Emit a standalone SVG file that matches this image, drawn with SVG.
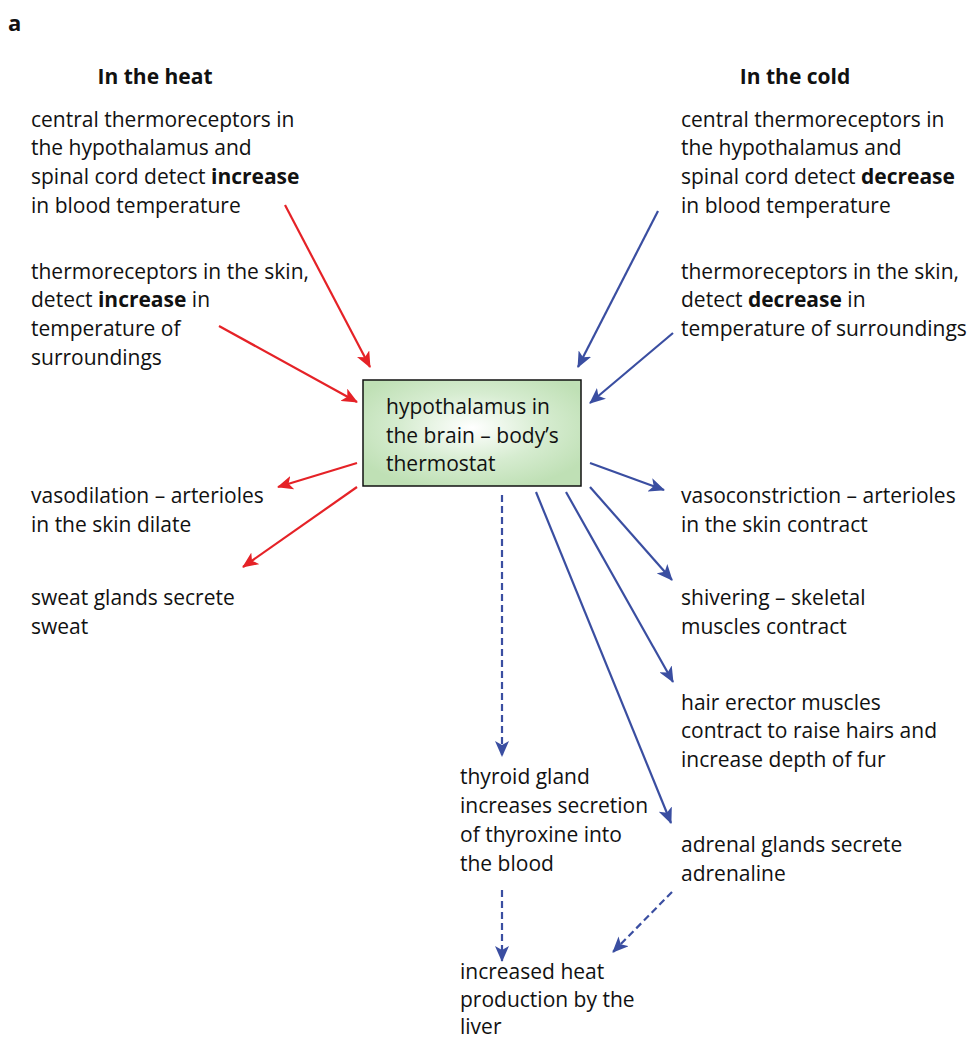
<svg xmlns="http://www.w3.org/2000/svg" width="969" height="1039" viewBox="0 0 969 1039">
  <defs>
    <style>
      text { font-family: "Open Sans", "Noto Sans", "Liberation Sans", sans-serif; font-size: 21px; fill: #111; }
      .b { font-weight: bold; }
      .red { stroke: #e52227; stroke-width: 2.2; fill: none; }
      .blue { stroke: #3a4ea1; stroke-width: 2.2; fill: none; }
      .dash { stroke-dasharray: 7 4; }
    </style>
    <radialGradient id="glow" cx="0.5" cy="0.45" r="0.6">
      <stop offset="0" stop-color="#ffffff"/>
      <stop offset="0.55" stop-color="#d6ecd0"/>
      <stop offset="1" stop-color="#bfe0b5"/>
    </radialGradient>
    <marker id="ahR" markerUnits="userSpaceOnUse" markerWidth="16" markerHeight="14" refX="15" refY="7" orient="auto">
      <path d="M0,0 L16,7 L0,14 L4,7 z" fill="#e52227"/>
    </marker>
    <marker id="ahB" markerUnits="userSpaceOnUse" markerWidth="16" markerHeight="14" refX="15" refY="7" orient="auto">
      <path d="M0,0 L16,7 L0,14 L4,7 z" fill="#3a4ea1"/>
    </marker>
  </defs>

  <text x="8" y="31" class="b" style="font-size:22px">a</text>

  <!-- connectors -->
  <g id="connectors">
    <line class="red" x1="285" y1="205" x2="370" y2="367" marker-end="url(#ahR)"/>
    <line class="red" x1="219" y1="326" x2="357" y2="402" marker-end="url(#ahR)"/>
    <line class="red" x1="357" y1="463" x2="278" y2="487" marker-end="url(#ahR)"/>
    <line class="red" x1="357" y1="487" x2="243" y2="567" marker-end="url(#ahR)"/>
    <line class="blue" x1="658" y1="211" x2="578" y2="367" marker-end="url(#ahB)"/>
    <line class="blue" x1="673" y1="333" x2="590" y2="403" marker-end="url(#ahB)"/>
    <line class="blue" x1="590" y1="463" x2="664" y2="490" marker-end="url(#ahB)"/>
    <line class="blue" x1="590" y1="487" x2="672" y2="580" marker-end="url(#ahB)"/>
    <line class="blue" x1="566" y1="492" x2="673" y2="682" marker-end="url(#ahB)"/>
    <line class="blue" x1="536" y1="492" x2="671" y2="823" marker-end="url(#ahB)"/>
    <line class="blue dash" x1="502" y1="495" x2="502" y2="756" marker-end="url(#ahB)"/>
    <line class="blue dash" x1="502" y1="890" x2="502" y2="961" marker-end="url(#ahB)"/>
    <line class="blue dash" x1="672" y1="892" x2="613" y2="952" marker-end="url(#ahB)"/>
  </g>

  <g id="hypothalamus">
    <rect x="363" y="380" width="218" height="106" fill="url(#glow)" stroke="#111" stroke-width="1.5"/>
    <text x="386" y="414">hypothalamus in</text>
    <text x="386" y="443">the brain – body’s</text>
    <text x="386" y="471">thermostat</text>
  </g>

  <g id="heat-title"><text x="155" y="84" class="b" text-anchor="middle">In the heat</text></g>
  <g id="cold-title"><text x="795" y="84" class="b" text-anchor="middle">In the cold</text></g>

  <g id="heat-central">
    <text x="31" y="127">central thermoreceptors in</text>
    <text x="31" y="155">the hypothalamus and</text>
    <text x="31" y="184">spinal cord detect <tspan class="b">increase</tspan></text>
    <text x="31" y="213">in blood temperature</text>
  </g>
  <g id="heat-skin">
    <text x="31" y="279">thermoreceptors in the skin,</text>
    <text x="31" y="307">detect <tspan class="b">increase</tspan> in</text>
    <text x="31" y="336">temperature of</text>
    <text x="31" y="365">surroundings</text>
  </g>
  <g id="vasodilation">
    <text x="31" y="503">vasodilation – arterioles</text>
    <text x="31" y="532">in the skin dilate</text>
  </g>
  <g id="sweat">
    <text x="31" y="605">sweat glands secrete</text>
    <text x="31" y="634">sweat</text>
  </g>

  <g id="cold-central">
    <text x="681" y="127">central thermoreceptors in</text>
    <text x="681" y="155">the hypothalamus and</text>
    <text x="681" y="184">spinal cord detect <tspan class="b">decrease</tspan></text>
    <text x="681" y="213">in blood temperature</text>
  </g>
  <g id="cold-skin">
    <text x="681" y="279">thermoreceptors in the skin,</text>
    <text x="681" y="307">detect <tspan class="b">decrease</tspan> in</text>
    <text x="681" y="336">temperature of surroundings</text>
  </g>
  <g id="vasoconstriction">
    <text x="681" y="503">vasoconstriction – arterioles</text>
    <text x="681" y="532">in the skin contract</text>
  </g>
  <g id="shivering">
    <text x="681" y="605">shivering – skeletal</text>
    <text x="681" y="634">muscles contract</text>
  </g>
  <g id="hair-erector">
    <text x="681" y="710">hair erector muscles</text>
    <text x="681" y="738">contract to raise hairs and</text>
    <text x="681" y="767">increase depth of fur</text>
  </g>
  <g id="adrenal">
    <text x="681" y="852">adrenal glands secrete</text>
    <text x="681" y="881">adrenaline</text>
  </g>
  <g id="thyroid">
    <text x="460" y="784">thyroid gland</text>
    <text x="460" y="813">increases secretion</text>
    <text x="460" y="842">of thyroxine into</text>
    <text x="460" y="871">the blood</text>
  </g>
  <g id="liver">
    <text x="460" y="979">increased heat</text>
    <text x="460" y="1007">production by the</text>
    <text x="460" y="1034">liver</text>
  </g>
</svg>
